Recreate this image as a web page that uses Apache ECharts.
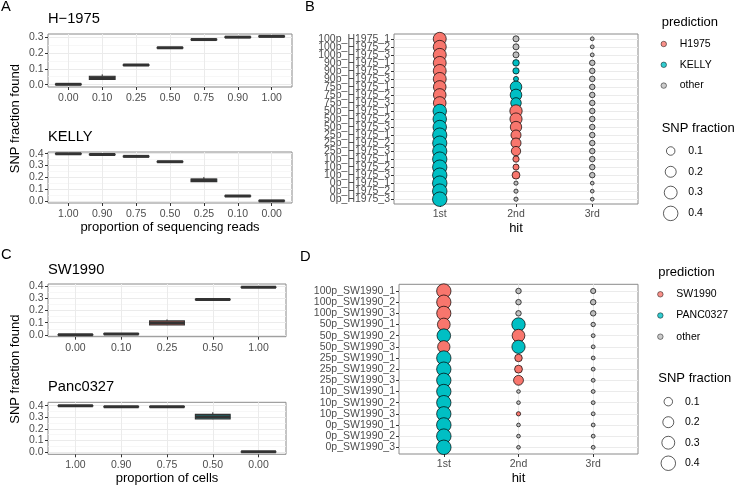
<!DOCTYPE html>
<html>
<head>
<meta charset="utf-8">
<script src="https://cdn.jsdelivr.net/npm/echarts@6/dist/echarts.min.js"></script>
<style>
html,body{margin:0;padding:0;background:#fff;}
#chart{width:737px;height:486px;}
</style>
</head>
<body>
<div id="chart"></div>
<script>
var FONT = '"Liberation Sans", Arial, Helvetica, sans-serif';
var predColors = {H1975: '#F8766D', KELLY: '#00BFC4', SW1990: '#F8766D', PANC0327: '#00BFC4', other: '#BEBEBE'};

// ---- A: read mixtures, [min, q1, median, q3, max]
var readLabelsH = ['0.00', '0.10', '0.25', '0.50', '0.75', '0.90', '1.00'];
var h1975Boxes = [
  [0.000, 0.000, 0.002, 0.004, 0.006],
  [0.032, 0.033, 0.043, 0.053, 0.065],
  [0.120, 0.121, 0.124, 0.126, 0.128],
  [0.229, 0.231, 0.233, 0.235, 0.236],
  [0.282, 0.283, 0.285, 0.287, 0.288],
  [0.297, 0.298, 0.300, 0.302, 0.303],
  [0.302, 0.303, 0.305, 0.307, 0.308]
];
var h1975Fill = ['', '', '', '', '', '', ''];
var readLabelsK = ['1.00', '0.90', '0.75', '0.50', '0.25', '0.10', '0.00'];
var kellyBoxes = [
  [0.396, 0.397, 0.399, 0.401, 0.402],
  [0.390, 0.391, 0.393, 0.395, 0.396],
  [0.373, 0.374, 0.377, 0.379, 0.380],
  [0.328, 0.330, 0.332, 0.334, 0.335],
  [0.162, 0.164, 0.176, 0.186, 0.203],
  [0.039, 0.040, 0.042, 0.044, 0.045],
  [0.000, 0.000, 0.001, 0.002, 0.003]
];
var kellyFill = ['', '', '', '', 'KELLY', '', ''];

// ---- C: cell mixtures
var cellLabelsS = ['0.00', '0.10', '0.25', '0.50', '1.00'];
var sw1990Boxes = [
  [0.000, 0.000, 0.002, 0.004, 0.005],
  [0.006, 0.007, 0.009, 0.011, 0.012],
  [0.080, 0.082, 0.098, 0.115, 0.127],
  [0.285, 0.287, 0.289, 0.291, 0.292],
  [0.385, 0.387, 0.389, 0.391, 0.392]
];
var sw1990Fill = ['', '', 'SW1990', '', ''];
var cellLabelsP = ['1.00', '0.90', '0.75', '0.50', '0.00'];
var panc0327Boxes = [
  [0.396, 0.397, 0.400, 0.402, 0.404],
  [0.388, 0.389, 0.391, 0.393, 0.394],
  [0.388, 0.389, 0.391, 0.393, 0.394],
  [0.283, 0.286, 0.305, 0.325, 0.343],
  [0.000, 0.000, 0.001, 0.002, 0.003]
];
var panc0327Fill = ['', '', '', 'PANC0327', ''];

var ticks3 = [0, 0.1, 0.2, 0.3];
var minor3 = [0.05, 0.15, 0.25];
var ticks4 = [0, 0.1, 0.2, 0.3, 0.4];
var minor4 = [0.05, 0.15, 0.25, 0.35];

// ---- B: top three hits per H1975/KELLY sample
var hitLabels = ['1st', '2nd', '3rd'];
var rowsB = ['100p_H1975_1', '100p_H1975_2', '100p_H1975_3', '90p_H1975_1', '90p_H1975_2', '90p_H1975_3',
  '75p_H1975_1', '75p_H1975_2', '75p_H1975_3', '50p_H1975_1', '50p_H1975_2', '50p_H1975_3',
  '25p_H1975_1', '25p_H1975_2', '25p_H1975_3', '10p_H1975_1', '10p_H1975_2', '10p_H1975_3',
  '0p_H1975_1', '0p_H1975_2', '0p_H1975_3'];
var hit1PredB = ['H1975', 'H1975', 'H1975', 'H1975', 'H1975', 'H1975', 'H1975', 'H1975', 'H1975',
  'KELLY', 'KELLY', 'KELLY', 'KELLY', 'KELLY', 'KELLY', 'KELLY', 'KELLY', 'KELLY', 'KELLY', 'KELLY', 'KELLY'];
var hit1FracB = [0.305, 0.305, 0.305, 0.30, 0.30, 0.30, 0.285, 0.285, 0.285, 0.335, 0.335, 0.335,
  0.38, 0.38, 0.38, 0.39, 0.39, 0.39, 0.40, 0.40, 0.40];
var hit2PredB = ['other', 'other', 'other', 'KELLY', 'KELLY', 'KELLY', 'KELLY', 'KELLY', 'KELLY',
  'H1975', 'H1975', 'H1975', 'H1975', 'H1975', 'H1975', 'H1975', 'H1975', 'H1975', 'other', 'other', 'other'];
var hit2FracB = [0.035, 0.035, 0.035, 0.045, 0.04, 0.018, 0.23, 0.23, 0.18, 0.27, 0.26, 0.22,
  0.16, 0.16, 0.13, 0.04, 0.035, 0.08, 0.008, 0.008, 0.008];
var hit3PredB = ['other', 'other', 'other', 'other', 'other', 'other', 'other', 'other', 'other', 'other', 'other',
  'other', 'other', 'other', 'other', 'other', 'other', 'other', 'other', 'other', 'other'];
var hit3FracB = [0.005, 0.005, 0.005, 0.025, 0.025, 0.025, 0.025, 0.025, 0.025, 0.025, 0.025, 0.025,
  0.025, 0.025, 0.025, 0.025, 0.025, 0.025, 0.004, 0.004, 0.004];

// ---- D: top three hits per SW1990/PANC0327 sample
var rowsD = ['100p_SW1990_1', '100p_SW1990_2', '100p_SW1990_3', '50p_SW1990_1', '50p_SW1990_2', '50p_SW1990_3',
  '25p_SW1990_1', '25p_SW1990_2', '25p_SW1990_3', '10p_SW1990_1', '10p_SW1990_2', '10p_SW1990_3',
  '0p_SW1990_1', '0p_SW1990_2', '0p_SW1990_3'];
var hit1PredD = ['SW1990', 'SW1990', 'SW1990', 'SW1990', 'PANC0327', 'SW1990', 'PANC0327', 'PANC0327',
  'PANC0327', 'PANC0327', 'PANC0327', 'PANC0327', 'PANC0327', 'PANC0327', 'PANC0327'];
var hit1FracD = [0.39, 0.385, 0.38, 0.29, 0.34, 0.27, 0.39, 0.39, 0.39, 0.39, 0.39, 0.39, 0.40, 0.40, 0.40];
var hit2PredD = ['other', 'other', 'other', 'PANC0327', 'SW1990', 'PANC0327', 'SW1990', 'SW1990', 'SW1990',
  'other', 'other', 'SW1990', 'other', 'other', 'other'];
var hit2FracD = [0.025, 0.025, 0.025, 0.33, 0.29, 0.32, 0.07, 0.08, 0.15, 0.004, 0.004, 0.009, 0.004, 0.004, 0.004];
var hit3PredD = ['other', 'other', 'other', 'other', 'other', 'other', 'other', 'other', 'other', 'other',
  'other', 'other', 'other', 'other', 'other'];
var hit3FracD = [0.02, 0.025, 0.025, 0.01, 0.005, 0.005, 0.005, 0.005, 0.005, 0.005, 0.005, 0.005, 0.005, 0.005, 0.005];

var sizeBreaks = [0.1, 0.2, 0.3, 0.4];
var sizeLabels = ['0.1', '0.2', '0.3', '0.4'];

function sizeScale(v) {
  return 2.5 + 12 * Math.sqrt(Math.max(v, 0) / 0.4);
}
function idx(arr) {
  return arr.map(function (d, i) { return i; });
}

var grids = [], xAxes = [], yAxes = [], series = [];
var tickLabel = {color: '#4D4D4D', fontSize: 10.5, fontFamily: FONT, showMinLabel: true, showMaxLabel: true,
  hideOverlap: false};
var tickStyle = {show: true, length: 3, lineStyle: {color: '#333', width: 1}};
var majorLine = {show: true, lineStyle: {color: '#EBEBEB', width: 1}};
var noLine = {show: false, onZero: false};
var nameStyle = {color: '#000', fontSize: 13, fontFamily: FONT};

function renderBox(params, api) {
  var x = api.value(0);
  var bw = api.size([1, 0])[0] * 0.76;
  var lo = api.coord([x, api.value(1)]);
  var q1 = api.coord([x, api.value(2)]);
  var md = api.coord([x, api.value(3)]);
  var q3 = api.coord([x, api.value(4)]);
  var hi = api.coord([x, api.value(5)]);
  var ink = '#333333';
  return {
    type: 'group',
    children: [
      {type: 'line', shape: {x1: hi[0], y1: hi[1], x2: q3[0], y2: q3[1]}, style: {stroke: ink, lineWidth: 1}},
      {type: 'line', shape: {x1: q1[0], y1: q1[1], x2: lo[0], y2: lo[1]}, style: {stroke: ink, lineWidth: 1}},
      {type: 'rect', shape: {x: q3[0] - bw / 2, y: q3[1], width: bw, height: q1[1] - q3[1]},
        style: {fill: api.visual('color'), stroke: ink, lineWidth: 1.1}},
      {type: 'line', shape: {x1: md[0] - bw / 2, y1: md[1], x2: md[0] + bw / 2, y2: md[1]},
        style: {stroke: ink, lineWidth: 3}}
    ]
  };
}

function boxPanel(rect, labels, boxes, fills, range, ticks, minor, xName, nameGap) {
  var g = grids.length;
  grids.push({left: rect[0], top: rect[1], width: rect[2], height: rect[3], show: true,
    borderColor: '#8a8a8a', borderWidth: 1, backgroundColor: '#fff'});
  xAxes.push({
    type: 'value', gridIndex: g, min: -0.6, max: labels.length - 0.4,
    axisLine: noLine, axisTick: Object.assign({customValues: idx(labels)}, tickStyle),
    axisLabel: Object.assign({customValues: idx(labels), margin: 5.5,
      formatter: function (v) { return labels[Math.round(v)]; }}, tickLabel),
    splitLine: majorLine,
    name: xName, nameLocation: 'middle', nameGap: nameGap, nameTextStyle: nameStyle
  });
  // light minor grid lines, axis itself hidden
  yAxes.push({
    type: 'value', gridIndex: g, min: range[0], max: range[1], position: 'right',
    axisLine: noLine, axisTick: {show: false, customValues: minor},
    axisLabel: {show: false}, splitLine: {show: true, lineStyle: {color: '#F3F3F3', width: 0.7}}
  });
  var yMajor = yAxes.length;
  yAxes.push({
    type: 'value', gridIndex: g, min: range[0], max: range[1], position: 'left',
    axisLine: noLine, axisTick: Object.assign({customValues: ticks}, tickStyle),
    axisLabel: Object.assign({customValues: ticks, margin: 4.5,
      formatter: function (v) { return v.toFixed(1); }}, tickLabel),
    splitLine: majorLine
  });
  series.push({
    type: 'custom', xAxisIndex: g, yAxisIndex: yMajor, renderItem: renderBox, silent: true,
    data: boxes.map(function (b, i) {
      return {value: [i].concat(b), itemStyle: {color: fills[i] ? predColors[fills[i]] : '#FFFFFF'}};
    })
  });
}

function hitPanel(rect, rows, preds, fracs) {
  var g = grids.length;
  grids.push({left: rect[0], top: rect[1], width: rect[2], height: rect[3], show: true,
    borderColor: '#8a8a8a', borderWidth: 1, backgroundColor: '#fff'});
  xAxes.push({
    type: 'value', gridIndex: g, min: -0.6, max: 2.6,
    axisLine: noLine, axisTick: Object.assign({customValues: [0, 1, 2]}, tickStyle),
    axisLabel: Object.assign({customValues: [0, 1, 2], margin: 5,
      formatter: function (v) { return hitLabels[Math.round(v)]; }}, tickLabel),
    splitLine: majorLine,
    name: 'hit', nameLocation: 'middle', nameGap: 17.5, nameTextStyle: nameStyle
  });
  // row labels are split over two stacked axes (even / odd rows), otherwise
  // ECharts drops the neighbours of the end labels; they overlap in the original too
  var all = idx(rows);
  var parts = [all.filter(function (i) { return i % 2 === 0; }), all.filter(function (i) { return i % 2 === 1; })];
  var y = yAxes.length;
  parts.forEach(function (vals) {
    yAxes.push({
      type: 'value', gridIndex: g, min: -0.6, max: rows.length - 0.4, inverse: true, position: 'left', offset: 0,
      axisLine: noLine, axisTick: Object.assign({customValues: vals}, tickStyle),
      axisLabel: Object.assign({customValues: vals, margin: 4,
        formatter: function (v) { return rows[Math.round(v)]; }}, tickLabel),
      splitLine: majorLine
    });
  });
  var pts = [];
  rows.forEach(function (r, i) {
    for (var h = 0; h < 3; h++) {
      pts.push({value: [h, i, fracs[h][i]], itemStyle: {color: predColors[preds[h][i]]}});
    }
  });
  series.push({
    type: 'scatter', xAxisIndex: g, yAxisIndex: y, silent: true, symbol: 'circle',
    symbolSize: function (val) { return sizeScale(val[2]); },
    itemStyle: {borderColor: '#000', borderWidth: 0.7, opacity: 1},
    data: pts
  });
  return [g, y];
}

function sizeLegend(rect, labelMargin) {
  var g = grids.length;
  grids.push({left: rect[0], top: rect[1], width: rect[2], height: rect[3]});
  xAxes.push({type: 'value', gridIndex: g, min: 0, max: 1, show: false});
  var y = yAxes.length;
  yAxes.push({
    type: 'value', gridIndex: g, min: -0.5, max: sizeBreaks.length - 0.5, inverse: true, position: 'right',
    axisLine: noLine, axisTick: {show: false}, splitLine: {show: false},
    axisLabel: {customValues: idx(sizeBreaks), margin: labelMargin, color: '#000', fontSize: 10.5, fontFamily: FONT,
      showMinLabel: true, showMaxLabel: true,
      formatter: function (v) { return sizeLabels[Math.round(v)]; }}
  });
  series.push({
    type: 'scatter', xAxisIndex: g, yAxisIndex: y, silent: true, symbol: 'circle',
    symbolSize: function (val) { return sizeScale(val[2]); },
    itemStyle: {color: 'rgba(255,255,255,0)', borderColor: '#000', borderWidth: 0.8},
    data: sizeBreaks.map(function (v, i) { return [0.5, i, v]; })
  });
}

function legendKeys(names, axes) {
  names.forEach(function (n) {
    series.push({type: 'scatter', name: n, xAxisIndex: axes[0], yAxisIndex: axes[1], data: [],
      itemStyle: {color: predColors[n], borderColor: '#000', borderWidth: 0.6}});
  });
}

boxPanel([48, 34, 244, 53], readLabelsH, h1975Boxes, h1975Fill, [-0.015, 0.32], ticks3, minor3, '', 0);
boxPanel([48, 152, 244, 51], readLabelsK, kellyBoxes, kellyFill, [-0.017, 0.414], ticks4, minor4,
  'proportion of sequencing reads', 18);
var axB = hitPanel([394, 34, 244, 170], rowsB, [hit1PredB, hit2PredB, hit3PredB], [hit1FracB, hit2FracB, hit3FracB]);
boxPanel([48, 284, 238, 52.7], cellLabelsS, sw1990Boxes, sw1990Fill, [-0.014, 0.416], ticks4, minor4, '', 0);
boxPanel([48, 402.3, 238, 52], cellLabelsP, panc0327Boxes, panc0327Fill, [-0.02, 0.429], ticks4, minor4,
  'proportion of cells', 17);
var axD = hitPanel([399, 284.3, 239, 169.7], rowsD, [hit1PredD, hit2PredD, hit3PredD], [hit1FracD, hit2FracD, hit3FracD]);
sizeLegend([660.7, 140.6, 20, 83.2], 7.6);
sizeLegend([658.3, 391.4, 20, 82.1], 6.7);

// legend keys: series with no data, only for the colour legends
legendKeys(['H1975', 'KELLY', 'other'], axB);
legendKeys(['SW1990', 'PANC0327'], axD);

function titleAt(text, left, top, size) {
  return {text: text, left: left, top: top, padding: 0,
    textStyle: {fontSize: size, fontWeight: 'normal', color: '#000', fontFamily: FONT, lineHeight: size}};
}

var legendText = {fontSize: 10.5, color: '#000', fontFamily: FONT, lineHeight: 12};
var legendIconStyle = {borderWidth: 0.6, borderColor: '#000'};

var option = {
  backgroundColor: '#fff',
  animation: false,
  title: [
    titleAt('A', 1, 0, 14.7), titleAt('B', 305, 0, 14.7), titleAt('C', 1, 248, 14.7), titleAt('D', 300, 249.5, 14.7),
    titleAt('H\u22121975', 48, 11.7, 14.7), titleAt('KELLY', 48, 129.7, 14.7),
    titleAt('SW1990', 48, 262.7, 14.7), titleAt('Panc0327', 48, 379.4, 14.7),
    titleAt('prediction', 661.7, 16, 13), titleAt('SNP fraction', 661.7, 121.5, 13),
    titleAt('prediction', 658.3, 266, 13), titleAt('SNP fraction', 658.3, 371.5, 13)
  ],
  legend: [
    {data: ['H1975', 'KELLY', 'other'], orient: 'vertical', left: 660.7, top: 38, padding: 0,
      icon: 'circle', itemWidth: 22, itemHeight: 5.5, itemGap: 8.8, selectedMode: false,
      itemStyle: legendIconStyle, textStyle: legendText},
    {data: ['SW1990', 'PANC0327', 'other'], orient: 'vertical', left: 657.3, top: 288.3, padding: 0,
      icon: 'circle', itemWidth: 22, itemHeight: 5.5, itemGap: 9.2, selectedMode: false,
      itemStyle: legendIconStyle, textStyle: legendText}
  ],
  graphic: [
    {type: 'text', x: 15.5, y: 118.7, rotation: Math.PI / 2, silent: true,
      style: {text: 'SNP fraction found', fontSize: 13, fontFamily: FONT, fill: '#000', align: 'center', verticalAlign: 'middle'}},
    {type: 'text', x: 15.5, y: 369.2, rotation: Math.PI / 2, silent: true,
      style: {text: 'SNP fraction found', fontSize: 13, fontFamily: FONT, fill: '#000', align: 'center', verticalAlign: 'middle'}}
  ],
  grid: grids,
  xAxis: xAxes,
  yAxis: yAxes,
  series: series
};

var myChart = echarts.init(document.getElementById('chart'), null, {renderer: 'canvas'});
myChart.setOption(option);
</script>
</body>
</html>
